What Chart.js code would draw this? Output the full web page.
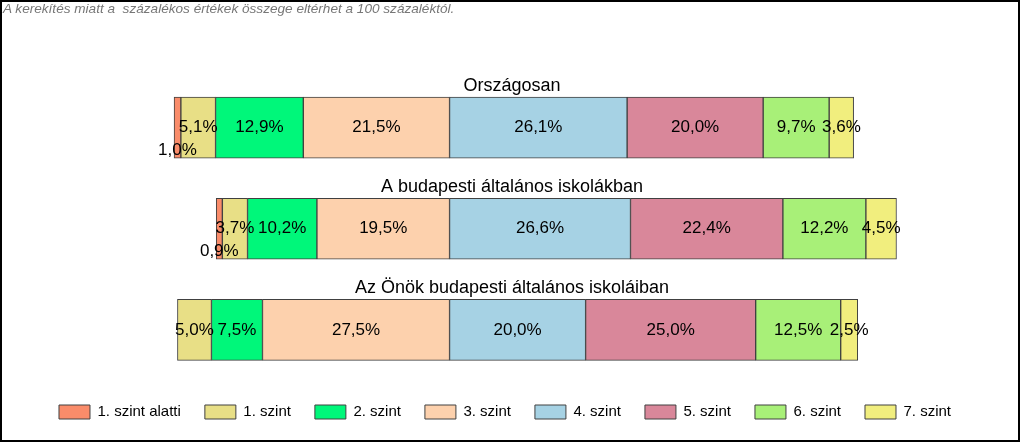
<!DOCTYPE html>
<html>
<head>
<meta charset="utf-8">
<script src="https://cdn.jsdelivr.net/npm/chart.js@4"></script>
<style>
  html, body { margin: 0; padding: 0; background: #fff; overflow: hidden; }
  #wrap { position: relative; width: 1024px; height: 443px; }
  #frame {
    position: absolute; left: 0; top: 0; width: 1020px; height: 442px;
    box-sizing: border-box; border: 2px solid #000; pointer-events: none;
  }
  #note {
    position: absolute; left: 3px; top: 1px;
    font: italic 13.6px "Liberation Sans", Arial, sans-serif; color: #777;
    white-space: pre;
  }
</style>
</head>
<body>
<div id="wrap">
  <canvas id="chart"></canvas>
  <div id="note">A kerekítés miatt a  százalékos értékek összege eltérhet a 100 százaléktól.</div>
  <div id="frame"></div>
</div>
<script>
/* =========================
   DATA
========================= */
const categories = [
  "Országosan",
  "A budapesti általános iskolákban",
  "Az Önök budapesti általános iskoláiban",
];

const levels = [
  "1. szint alatti",
  "1. szint",
  "2. szint",
  "3. szint",
  "4. szint",
  "5. szint",
  "6. szint",
  "7. szint",
];

const szintAlatti = [1.0, 0.9, 0];
const szint1 = [5.1, 3.7, 5.0];
const szint2 = [12.9, 10.2, 7.5];
const szint3 = [21.5, 19.5, 27.5];
const szint4 = [26.1, 26.6, 20.0];
const szint5 = [20.0, 22.4, 25.0];
const szint6 = [9.7, 12.2, 12.5];
const szint7 = [3.6, 4.5, 2.5];

const series = [szintAlatti, szint1, szint2, szint3, szint4, szint5, szint6, szint7];

const colors = [
  "#FA8C6A",
  "#E8DF86",
  "#00F77A",
  "#FDD1AD",
  "#A6D2E4",
  "#D9879A",
  "#A8F078",
  "#F1EE7E",
];

/* =========================
   RANGES (levels 1-alatti..3 left of zero, 4..7 right)
========================= */
const ranges = series.map(() => []);

categories.forEach((c, i) => {
  let pos = -(szintAlatti[i] + szint1[i] + szint2[i] + szint3[i]);

  series.forEach((arr, s) => {
    ranges[s][i] = [pos, pos + arr[i]];
    pos += arr[i];
  });
});

const datasets = levels.map((name, s) => ({
  label: name,
  data: ranges[s],
  values: series[s],
  backgroundColor: colors[s],
  borderColor: "#404040",
  borderWidth: 1,
  borderSkipped: false,
  barThickness: 61,
}));

const FONT = '"Liberation Sans", Arial, sans-serif';

/* =========================
   PLUGINS
========================= */
const labelsPlugin = {
  id: "segLabels",
  afterDatasetsDraw(chart) {
    const ctx = chart.ctx;
    ctx.save();
    ctx.font = "17px " + FONT;
    ctx.fillStyle = "#000";
    ctx.textAlign = "center";
    ctx.textBaseline = "middle";

    chart.data.datasets.forEach((ds, d) => {
      chart.getDatasetMeta(d).data.forEach((bar, i) => {
        const v = ds.values[i];
        if (!v) return;

        const w = Math.abs(bar.x - bar.base);
        const cx = (bar.x + bar.base) / 2;
        const cy = w < 10 ? bar.y + 23 : bar.y;

        ctx.fillText(v.toFixed(1).replace(".", ",") + "%", cx, cy);
      });
    });

    // titles above each bar
    ctx.font = "18px " + FONT;
    ctx.textBaseline = "alphabetic";
    const meta = chart.getDatasetMeta(0);
    categories.forEach((c, i) => {
      const bar = meta.data[i];
      ctx.fillText(c, chart.width / 2, bar.y - bar.height / 2 - 6);
    });

    ctx.restore();
  },
};

/* =========================
   CHART
========================= */
new Chart(document.getElementById("chart"), {
  type: "bar",
  data: {
    labels: categories,
    datasets,
  },
  options: {
    indexAxis: "y",
    responsive: true,
    maintainAspectRatio: false,
    animation: false,
    layout: {
      padding: { left: 4, right: 18, top: 77, bottom: 13.5 },
    },
    scales: {
      x: { display: false, min: -65.5, max: 81.8, stacked: false },
      y: { display: false, stacked: true },
    },
    plugins: {
      tooltip: { enabled: false },
      legend: {
        position: "bottom",
        labels: {
          boxWidth: 31,
          boxHeight: 14,
          padding: 24,
          color: "#000",
          font: { family: FONT, size: 15 },
        },
      },
    },
  },
  plugins: [labelsPlugin],
});
</script>
</body>
</html>
